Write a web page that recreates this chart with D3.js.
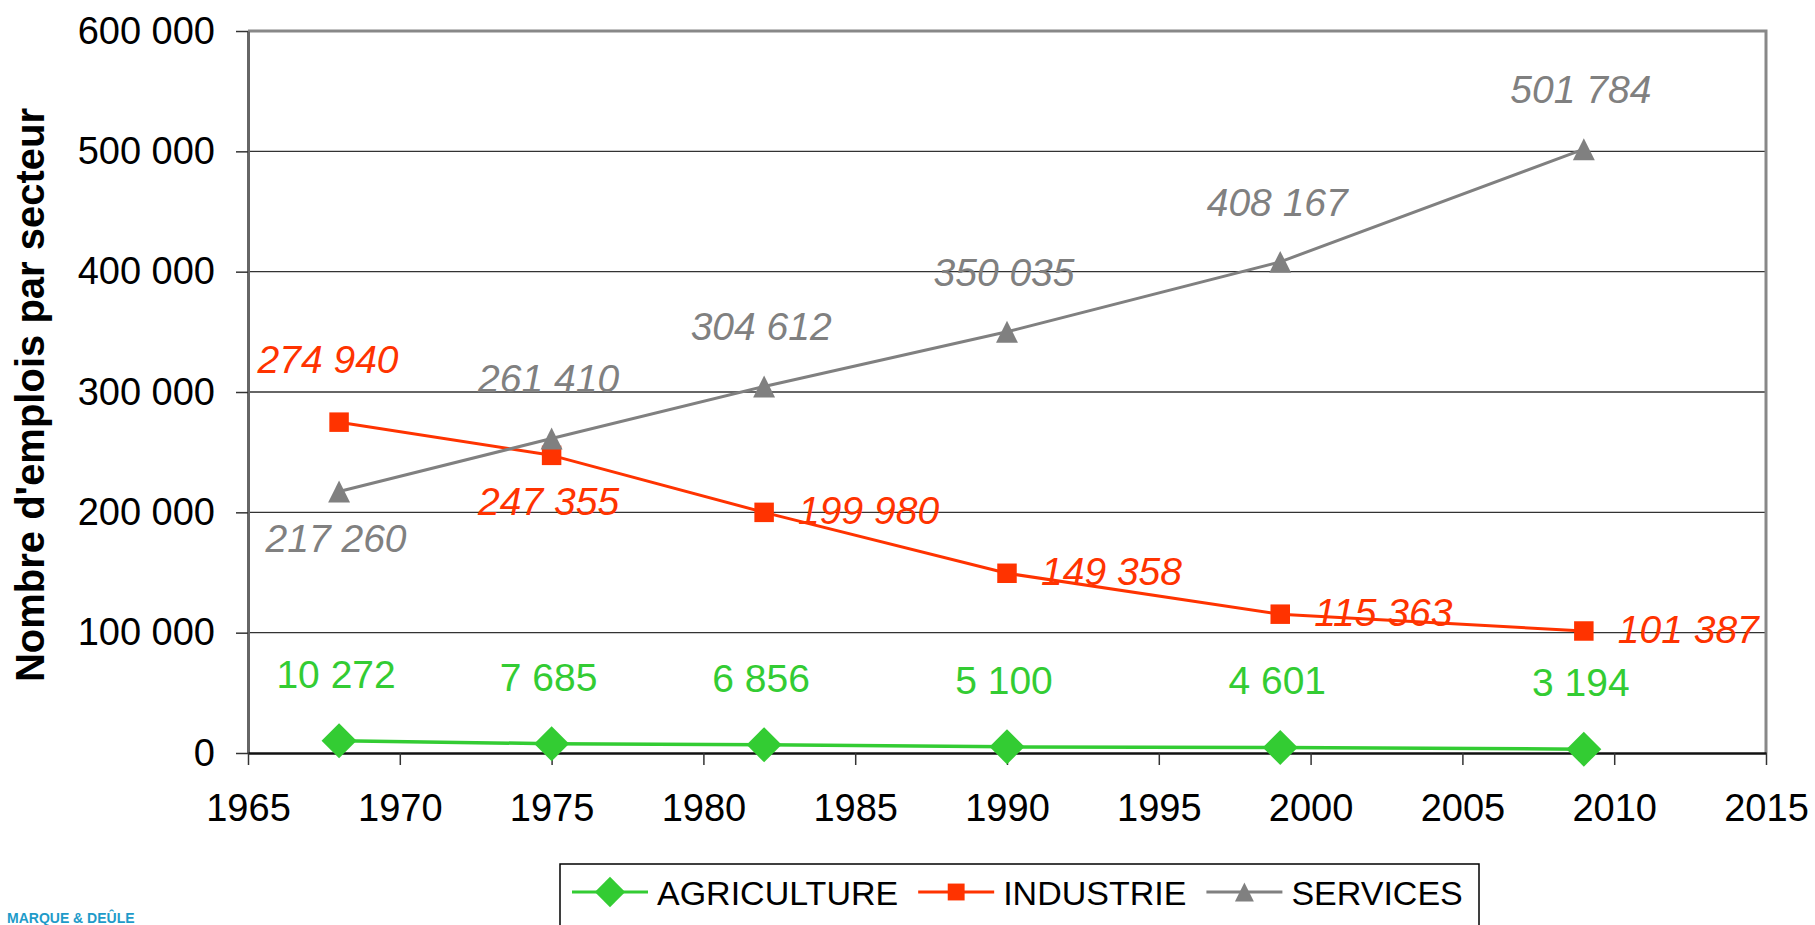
<!DOCTYPE html>
<html>
<head>
<meta charset="utf-8">
<script src="https://cdn.jsdelivr.net/npm/d3@7"></script>
<style>
  body { margin: 0; background: #fff; }
  svg { display: block; font-family: 'Liberation Sans', Arial, sans-serif; }
</style>
</head>
<body>
<svg id="chart" width="1815" height="925"></svg>
<script>
'use strict';

var years = [1968, 1975, 1982, 1990, 1999, 2009];
var agriculture = [10272, 7685, 6856, 5100, 4601, 3194];
var industrie = [274940, 247355, 199980, 149358, 115363, 101387];
var services = [217260, 261410, 304612, 350035, 408167, 501784];

var seriesNames = ['AGRICULTURE', 'INDUSTRIE', 'SERVICES'];
var yTickValues = [0, 100000, 200000, 300000, 400000, 500000, 600000];
var xTickValues = [1965, 1970, 1975, 1980, 1985, 1990, 1995, 2000, 2005, 2010, 2015];

// where each value label sits relative to its point
var agricultureLabelPlace = ['above', 'above', 'above', 'above', 'above', 'above'];
var industrieLabelPlace = ['above', 'below', 'right', 'right', 'right', 'right'];
var servicesLabelPlace = ['below', 'above', 'above', 'above', 'above', 'above'];

var fr = d3.formatLocale({ decimal: ',', thousands: ' ', grouping: [3], currency: ['', ' €'] });
var fmt = fr.format(',d');

var margin = { left: 248, right: 1766, top: 31, bottom: 753 };
var AXIS_FONT = 38;
var LABEL_FONT = 39;

var svg = d3.select('#chart');

var x = d3.scaleLinear().domain([1965, 2015]).range([margin.left, margin.right]);
var y = d3.scaleLinear().domain([0, 600000]).range([margin.bottom, margin.top]);

// diamond / box-centred triangle that d3 does not ship with
var symbolDiamondSq = {
  draw: function(context, size) {
    var r = Math.sqrt(size) / 2;
    context.moveTo(0, -r);
    context.lineTo(r, 0);
    context.lineTo(0, r);
    context.lineTo(-r, 0);
    context.closePath();
  }
};
var symbolTriangleBox = {
  draw: function(context, size) {
    var s = Math.sqrt(size);
    context.moveTo(0, -s / 2);
    context.lineTo(s / 2, s / 2);
    context.lineTo(-s / 2, s / 2);
    context.closePath();
  }
};

var series = [
  { name: seriesNames[0], values: agriculture, places: agricultureLabelPlace, color: '#33CC33',
    symbol: symbolDiamondSq, size: 1225, italic: false, aboveDy: -54, width: 3.5 },
  { name: seriesNames[1], values: industrie, places: industrieLabelPlace, color: '#FF3300',
    symbol: d3.symbolSquare, size: 380, italic: true, aboveDy: -50, width: 3 },
  { name: seriesNames[2], values: services, places: servicesLabelPlace, color: '#808080',
    symbol: symbolTriangleBox, size: 480, italic: true, aboveDy: -47, width: 3 }
];

// gridlines
svg.append('g')
  .selectAll('line')
  .data(yTickValues.filter(function(d) { return d > 0 && d < 600000; }))
  .join('line')
  .attr('x1', margin.left)
  .attr('x2', margin.right)
  .attr('y1', function(d) { return y(d); })
  .attr('y2', function(d) { return y(d); })
  .attr('stroke', '#333')
  .attr('stroke-width', 1.3);

// frame: top and right in grey
svg.append('path')
  .attr('d', 'M' + margin.left + ',' + margin.top + 'H' + margin.right + 'V' + margin.bottom)
  .attr('fill', 'none')
  .attr('stroke', '#888')
  .attr('stroke-width', 3);

var yAxis = d3.axisLeft(y)
  .tickValues(yTickValues)
  .tickSize(12)
  .tickSizeOuter(0)
  .tickPadding(21)
  .tickFormat(fmt);

var gy = svg.append('g')
  .attr('transform', 'translate(' + margin.left + ',0)')
  .call(yAxis);
gy.select('.domain').attr('stroke', '#666').attr('stroke-width', 3);
gy.selectAll('.tick line').attr('stroke', '#333').attr('stroke-width', 1.5);
gy.selectAll('.tick text')
  .attr('font-size', AXIS_FONT)
  .attr('font-family', 'Liberation Sans, Arial, sans-serif')
  .attr('fill', '#000');

var xAxis = d3.axisBottom(x)
  .tickValues(xTickValues)
  .tickSize(12)
  .tickSizeOuter(0)
  .tickPadding(29)
  .tickFormat(d3.format('d'));

var gx = svg.append('g')
  .attr('transform', 'translate(0,' + margin.bottom + ')')
  .call(xAxis);
gx.select('.domain').attr('stroke', '#111').attr('stroke-width', 2.5);
gx.selectAll('.tick line').attr('stroke', '#333').attr('stroke-width', 1.5);
gx.selectAll('.tick text')
  .attr('font-size', AXIS_FONT)
  .attr('font-family', 'Liberation Sans, Arial, sans-serif')
  .attr('fill', '#000');

// y title
svg.append('text')
  .attr('transform', 'translate(44,' + ((margin.top + margin.bottom) / 2 + 3) + ') rotate(-90)')
  .attr('text-anchor', 'middle')
  .attr('font-size', 40)
  .attr('font-weight', 'bold')
  .attr('fill', '#000')
  .text("Nombre d'emplois par secteur");

var line = d3.line()
  .x(function(d, i) { return x(years[i]); })
  .y(function(d) { return y(d); });

series.forEach(function(s) {
  var g = svg.append('g');

  g.append('path')
    .attr('d', line(s.values))
    .attr('fill', 'none')
    .attr('stroke', s.color)
    .attr('stroke-width', s.width)
    .attr('stroke-linejoin', 'round');

  g.selectAll('path.mark')
    .data(s.values)
    .join('path')
    .attr('class', 'mark')
    .attr('d', d3.symbol(s.symbol, s.size))
    .attr('transform', function(d, i) {
      return 'translate(' + x(years[i]) + ',' + y(d) + ')';
    })
    .attr('fill', s.color);
});

// value labels
series.forEach(function(s) {
  svg.append('g')
    .selectAll('text')
    .data(s.values)
    .join('text')
    .attr('x', function(d, i) {
      var p = s.places[i];
      if (p === 'right') return x(years[i]) + 34;
      if (p === 'above' && s.name === 'INDUSTRIE') return x(years[i]) - 11;
      return x(years[i]) - 3;
    })
    .attr('y', function(d, i) {
      var p = s.places[i];
      if (p === 'above') return y(d) + s.aboveDy + 1;
      if (p === 'below') return y(d) + 60;
      return y(d) + 12;
    })
    .attr('text-anchor', function(d, i) { return s.places[i] === 'right' ? 'start' : 'middle'; })
    .attr('font-size', LABEL_FONT)
    .attr('font-style', s.italic ? 'italic' : 'normal')
    .attr('fill', s.color)
    .text(function(d) { return fmt(d); });
});

// legend
var legend = svg.append('g');
legend.append('rect')
  .attr('x', 560)
  .attr('y', 864)
  .attr('width', 919)
  .attr('height', 120)
  .attr('fill', '#fff')
  .attr('stroke', '#000')
  .attr('stroke-width', 1.5);

var lx = 572;
series.forEach(function(s) {
  var ly = 892;
  legend.append('line')
    .attr('x1', lx).attr('x2', lx + 76)
    .attr('y1', ly).attr('y2', ly)
    .attr('stroke', s.color)
    .attr('stroke-width', 3);
  legend.append('path')
    .attr('d', d3.symbol(s.symbol, s.size * 0.75))
    .attr('transform', 'translate(' + (lx + 38) + ',' + ly + ')')
    .attr('fill', s.color);
  var t = legend.append('text')
    .attr('x', lx + 85)
    .attr('y', 905)
    .attr('font-size', 34)
    .attr('fill', '#000')
    .text(s.name);
  lx = lx + 85 + t.node().getComputedTextLength() + 20;
});

// small logo text in the bottom-left corner
svg.append('text')
  .attr('x', 7)
  .attr('y', 923)
  .attr('font-size', 14)
  .attr('font-weight', 'bold')
  .attr('fill', '#1E9BC9')
  .text('MARQUE & DEÛLE');
</script>
</body>
</html>
